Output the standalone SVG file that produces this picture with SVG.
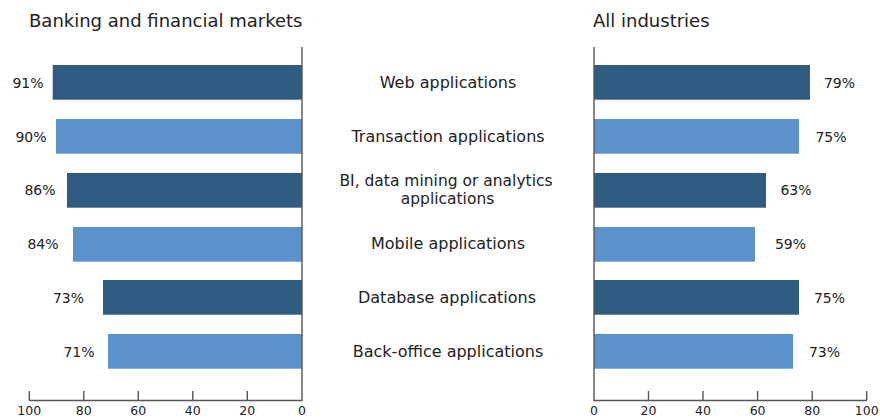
<svg xmlns="http://www.w3.org/2000/svg" width="880" height="420" viewBox="0 0 880 420">
<style>
text{font-family:"DejaVu Sans","Liberation Sans",sans-serif;fill:#222}
.title{font-size:18px}
.cat{font-size:16px;text-anchor:middle}
.cat2{font-size:15.5px;text-anchor:middle}
.pct{font-size:14px;text-anchor:middle}
.tick{font-size:12.5px;text-anchor:middle}
.dark{fill:#2F5C80}
.light{fill:#5B92CB}
.axis{stroke:#555;stroke-width:1.4;fill:none}
</style>
<rect width="880" height="420" fill="#fff"/>
<text class="title" x="29" y="27">Banking and financial markets</text>
<text class="title" x="593" y="27">All industries</text>

<g id="left-bars">
<rect class="dark" x="52.7" y="65" width="249.3" height="34.7"/>
<rect class="light" x="56" y="119" width="246" height="34.7"/>
<rect class="dark" x="67" y="173" width="235" height="34.7"/>
<rect class="light" x="73" y="227" width="229" height="34.7"/>
<rect class="dark" x="103" y="280" width="199" height="34.7"/>
<rect class="light" x="108" y="334" width="194" height="34.7"/>
</g>
<g id="left-labels">
<text class="pct" x="28" y="88">91%</text>
<text class="pct" x="31" y="142">90%</text>
<text class="pct" x="40" y="195">86%</text>
<text class="pct" x="43" y="249">84%</text>
<text class="pct" x="68.5" y="303">73%</text>
<text class="pct" x="79" y="357">71%</text>
</g>

<g id="right-bars">
<rect class="dark" x="594" y="65" width="216" height="34.7"/>
<rect class="light" x="594" y="119" width="205" height="34.7"/>
<rect class="dark" x="594" y="173" width="172" height="34.7"/>
<rect class="light" x="594" y="227" width="161" height="34.7"/>
<rect class="dark" x="594" y="280" width="205" height="34.7"/>
<rect class="light" x="594" y="334" width="199" height="34.7"/>
</g>
<g id="right-labels">
<text class="pct" x="839.5" y="88">79%</text>
<text class="pct" x="831" y="142">75%</text>
<text class="pct" x="796" y="195">63%</text>
<text class="pct" x="790.5" y="249">59%</text>
<text class="pct" x="829.5" y="303">75%</text>
<text class="pct" x="824.5" y="357">73%</text>
</g>

<g id="categories">
<text class="cat" x="448" y="88">Web applications</text>
<text class="cat" x="448" y="142">Transaction applications</text>
<text class="cat2" x="446" y="186">BI, data mining or analytics</text>
<text class="cat2" x="447.5" y="204">applications</text>
<text class="cat" x="448" y="249">Mobile applications</text>
<text class="cat" x="447" y="303">Database applications</text>
<text class="cat" x="448" y="357">Back-office applications</text>
</g>

<g id="left-axis">
<path class="axis" d="M302 47V400.5M29.3 400.5H302.7M29.3 391V400.5M83.8 391V400.5M138.3 391V400.5M192.8 391V400.5M247.3 391V400.5"/>
<text class="tick" x="29.3" y="415">100</text>
<text class="tick" x="83.8" y="415">80</text>
<text class="tick" x="138.3" y="415">60</text>
<text class="tick" x="192.8" y="415">40</text>
<text class="tick" x="247.3" y="415">20</text>
<text class="tick" x="302" y="415">0</text>
</g>
<g id="right-axis">
<path class="axis" d="M594 47V400.5M593.3 400.5H866.7M648.5 391V400.5M703 391V400.5M757.6 391V400.5M812.2 391V400.5M866.7 391V400.5"/>
<text class="tick" x="594" y="415">0</text>
<text class="tick" x="648.5" y="415">20</text>
<text class="tick" x="703" y="415">40</text>
<text class="tick" x="757.6" y="415">60</text>
<text class="tick" x="812.2" y="415">80</text>
<text class="tick" x="866.7" y="415">100</text>
</g>
</svg>
